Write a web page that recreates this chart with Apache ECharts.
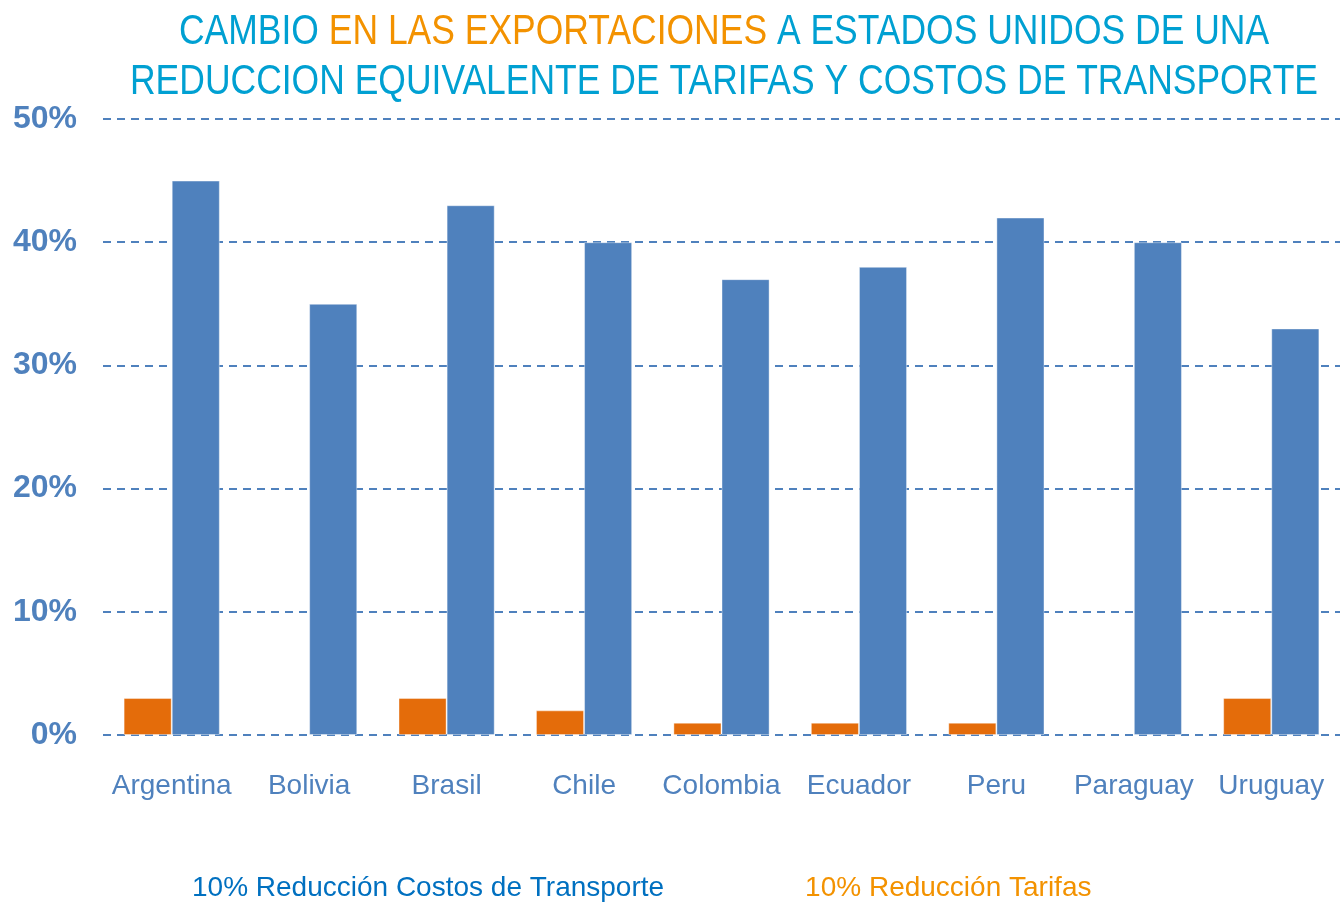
<!DOCTYPE html>
<html>
<head>
<meta charset="utf-8">
<script src="https://cdn.jsdelivr.net/npm/echarts@6/dist/echarts.min.js"></script>
<style>
  html,body{margin:0;padding:0;background:#fff}
  #chart{width:1340px;height:903px}
</style>
</head>
<body>
<div id="chart"></div>
<script>
  var paises = ['Argentina', 'Bolivia', 'Brasil', 'Chile', 'Colombia', 'Ecuador', 'Peru', 'Paraguay', 'Uruguay']
  var tarifas = [3, 0, 3, 2, 1, 1, 1, 0, 3]
  var transporte = [45, 35, 43, 40, 37, 38, 42, 40, 33]
  var ticksY = [0, 10, 20, 30, 40, 50]

  var fuente = '"Liberation Sans", Arial, sans-serif'
  var azul = '#4f81bd'
  var naranja = '#e46c0a'
  var celeste = '#00a0d2'

  // el titulo original usa una fuente condensada: se mide y se comprime en x
  var linea2 = 'REDUCCION EQUIVALENTE DE TARIFAS Y COSTOS DE TRANSPORTE'
  var ctx = document.createElement('canvas').getContext('2d')
  ctx.font = '42px ' + fuente
  var escala = 1188 / ctx.measureText(linea2).width

  // sin borde en las barras de valor cero
  function barras(arr) {
    return arr.map(function (v) {
      return v === 0 ? {value: 0, itemStyle: {borderWidth: 0}} : v
    })
  }

  var myChart = echarts.init(document.getElementById('chart'))
  var option = {
    animation: false,
    graphic: [
      {
        type: 'text', x: 724, y: 32, scaleX: escala,
        style: {
          text: '{b|CAMBIO }{o|EN LAS EXPORTACIONES}{b| A ESTADOS UNIDOS DE UNA}',
          align: 'center', verticalAlign: 'middle',
          rich: {
            b: {fill: celeste, fontSize: 42, fontFamily: fuente},
            o: {fill: '#f39200', fontSize: 42, fontFamily: fuente}
          }
        }
      },
      {
        type: 'text', x: 724, y: 82, scaleX: escala,
        style: {
          text: linea2, fill: celeste, fontSize: 42, fontFamily: fuente,
          align: 'center', verticalAlign: 'middle'
        }
      }
    ],
    legend: {
      bottom: -4,
      left: 182,
      itemGap: 136,
      itemWidth: 0,
      itemHeight: 0,
      icon: 'none',
      data: [
        {name: '10% Reducción Costos de Transporte', textStyle: {color: '#0070c0'}},
        {name: '10% Reducción Tarifas', textStyle: {color: '#f39200'}}
      ],
      textStyle: {fontSize: 28, fontFamily: fuente}
    },
    grid: {left: 103, right: -5, top: 119, bottom: 168, containLabel: false},
    xAxis: {
      type: 'category',
      data: paises,
      axisLine: {show: false},
      axisTick: {show: false},
      axisLabel: {color: azul, fontSize: 28, fontFamily: fuente, margin: 37, interval: 0}
    },
    yAxis: {
      type: 'value',
      min: 0,
      max: 50,
      interval: 10,
      axisLine: {show: false},
      axisTick: {show: false},
      axisLabel: {
        color: azul, fontSize: 32, fontWeight: 'bold', fontFamily: fuente, margin: 26,
        formatter: function (v) { return ticksY.indexOf(v) >= 0 ? v + '%' : '' }
      },
      splitLine: {lineStyle: {color: azul, width: 2, type: [8, 6]}}
    },
    series: [
      {
        name: '10% Reducción Tarifas',
        type: 'bar',
        data: barras(tarifas),
        barGap: '0%',
        barCategoryGap: '30%',
        itemStyle: {color: naranja, borderColor: 'rgba(255,255,255,0.4)', borderWidth: 1}
      },
      {
        name: '10% Reducción Costos de Transporte',
        type: 'bar',
        data: barras(transporte),
        barGap: '0%',
        barCategoryGap: '30%',
        itemStyle: {color: azul, borderColor: 'rgba(255,255,255,0.4)', borderWidth: 1}
      }
    ]
  }
  myChart.setOption(option)
</script>
</body>
</html>
